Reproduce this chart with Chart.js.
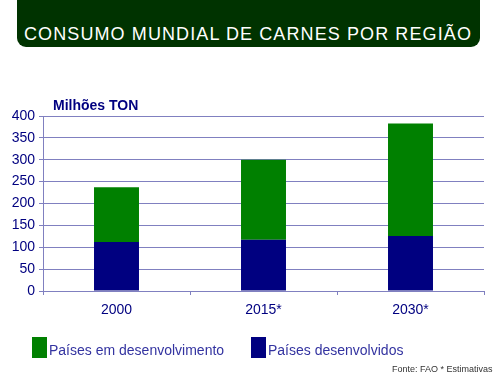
<!DOCTYPE html>
<html>
<head>
<meta charset="utf-8">
<script src="https://cdn.jsdelivr.net/npm/chart.js@4.4.0/dist/chart.umd.min.js"></script>
<style>
html,body{margin:0;padding:0;background:#fff;width:499px;height:379px;overflow:hidden;font-family:"Liberation Sans",Arial,sans-serif;}
#banner{position:absolute;left:17px;top:0;width:463px;height:47px;background:#003300;border-radius:0 0 9px 9px;}
#title{position:absolute;left:24px;top:24px;color:#fff;font-size:18px;letter-spacing:1.1px;white-space:nowrap;}
#wrap{position:absolute;left:0;top:0;width:499px;height:379px;}
#unit{position:absolute;left:53px;top:97px;color:#000080;font-weight:bold;font-size:14px;}
.leg{position:absolute;top:337px;font-size:14px;color:#3333a0;white-space:nowrap;}
.leg span.box{position:absolute;left:0;top:0;width:15px;height:21px;}
.leg span.t{position:absolute;left:17px;top:5px;}
#src{position:absolute;left:392px;top:364px;font-size:9px;color:#333;white-space:nowrap;}
</style>
</head>
<body>
<div id="banner"></div>
<div id="title">CONSUMO MUNDIAL DE CARNES POR REGIÃO</div>
<div id="wrap"><canvas id="c" width="499" height="379"></canvas></div>
<div id="unit">Milhões TON</div>
<div class="leg" style="left:32px"><span class="box" style="background:#008000"></span><span class="t">Países em desenvolvimento</span></div>
<div class="leg" style="left:251px"><span class="box" style="background:#000080"></span><span class="t">Países desenvolvidos</span></div>
<div id="src">Fonte: FAO * Estimativas</div>
<script>
const categories = ['2000', '2015*', '2030*'];
const developed = [112, 117, 126];
const developing = [125, 183, 257];
const yTicks = [0, 50, 100, 150, 200, 250, 300, 350, 400];

const gridColor = '#8080c0';
new Chart(document.getElementById('c'), {
  type: 'bar',
  data: {
    labels: categories,
    datasets: [
      {label: 'Países desenvolvidos', data: developed, backgroundColor: '#000080', categoryPercentage: 1, barPercentage: 0.306},
      {label: 'Países em desenvolvimento', data: developing, backgroundColor: '#008000', categoryPercentage: 1, barPercentage: 0.306}
    ]
  },
  options: {
    responsive: false,
    animation: false,
    layout: {padding: {left: 0, top: 116, right: 15, bottom: 0}},
    plugins: {legend: {display: false}, tooltip: {enabled: false}, title: {display: false}},
    scales: {
      x: {
        stacked: true,
        grid: {drawOnChartArea: false, color: gridColor, tickLength: 4, offset: true},
        border: {color: gridColor},
        ticks: {color: '#000080', font: {family: 'Liberation Sans', size: 14}, padding: 7},
        afterFit: s => { s.height = 379 - 291; }
      },
      y: {
        stacked: true,
        min: 0, max: 400,
        afterBuildTicks: s => { s.ticks = yTicks.map(v => ({value: v})); },
        grid: {color: gridColor, tickLength: 4},
        border: {color: gridColor},
        ticks: {color: '#000080', font: {family: 'Liberation Sans', size: 14}, padding: 4},
        afterFit: s => { s.width = 43; }
      }
    }
  }
});
</script>
</body>
</html>
